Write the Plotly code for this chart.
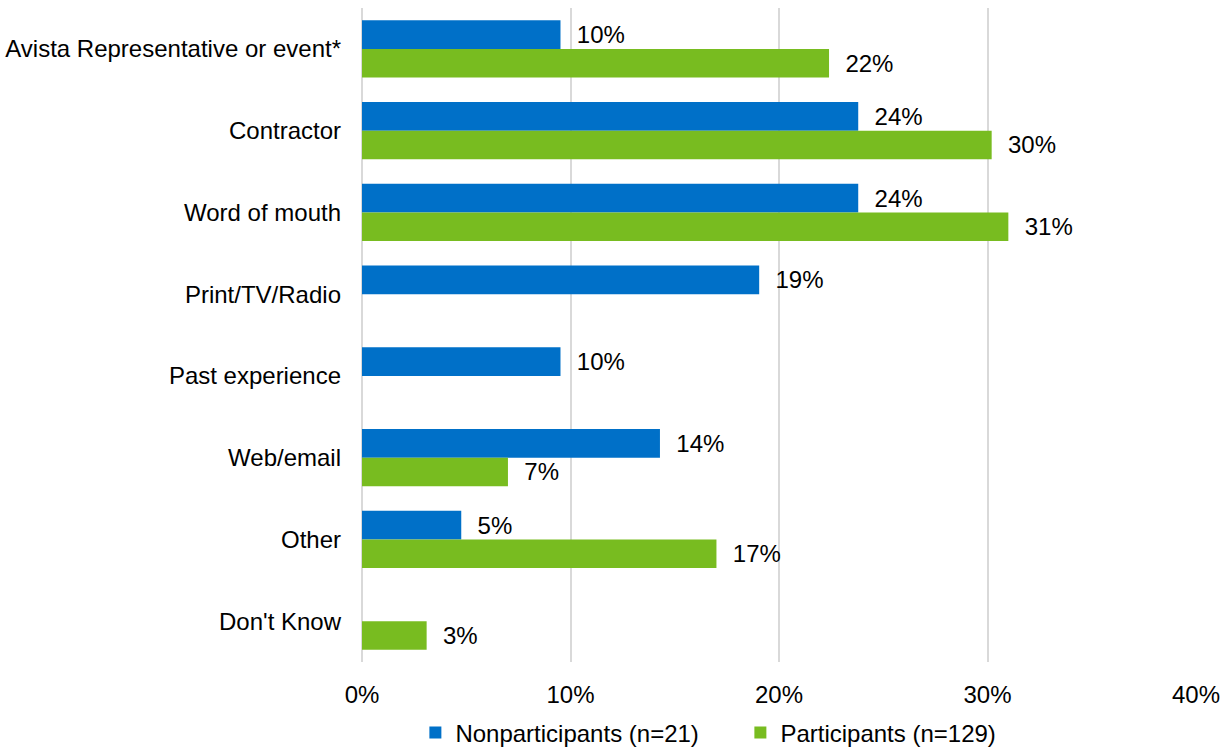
import plotly.graph_objects as go

categories = [
    "Avista Representative or event*",
    "Contractor",
    "Word of mouth",
    "Print/TV/Radio",
    "Past experience",
    "Web/email",
    "Other",
    "Don't Know",
]
nonparticipants = [0.0952, 0.238, 0.238, 0.1905, 0.0952, 0.1429, 0.0476, None]
participants = [0.224, 0.302, 0.310, None, None, 0.070, 0.170, 0.031]

series_names = ["Nonparticipants (n=21)", "Participants (n=129)"]
series_colors = ["#0070C8", "#78BC20"]

font_family = "Liberation Sans, Arial, sans-serif"
font_size = 24

fig = go.Figure()
for name, vals, color in zip(series_names, [nonparticipants, participants], series_colors):
    fig.add_trace(go.Bar(
        y=categories,
        x=vals,
        name=name,
        orientation="h",
        marker=dict(color=color, line=dict(width=0)),
        texttemplate="\u00a0\u00a0%{x:.0%}",
        textposition="outside",
        textfont=dict(size=font_size, color="#000000", family=font_family),
        cliponaxis=False,
    ))

fig.update_layout(
    width=1229,
    height=748,
    margin=dict(l=362, r=33, t=8, b=86, autoexpand=False),
    paper_bgcolor="white",
    plot_bgcolor="white",
    barmode="group",
    bargap=0.3,
    bargroupgap=0,
    font=dict(family=font_family, size=font_size, color="#000000"),
    showlegend=True,
    legend=dict(
        orientation="h",
        x=0.064,
        xanchor="left",
        y=-0.1086,
        yanchor="middle",
        font=dict(size=font_size, color="#000000"),
        itemwidth=30,
        entrywidth=280,
        entrywidthmode="pixels",
        traceorder="normal",
    ),
    xaxis=dict(
        range=[0, 0.4],
        tickvals=[0, 0.1, 0.2, 0.3, 0.4],
        tickformat=".0%",
        showgrid=True,
        gridcolor="#D9D9D9",
        gridwidth=2,
        zeroline=True,
        zerolinecolor="#D9D9D9",
        zerolinewidth=2,
        showline=False,
        ticks="",
        ticklabelstandoff=16,
        automargin=False,
        tickfont=dict(size=font_size, color="#000000"),
    ),
    yaxis=dict(
        autorange="reversed",
        showgrid=False,
        zeroline=False,
        showline=False,
        ticks="",
        ticklabelstandoff=20,
        automargin=False,
        tickfont=dict(size=font_size, color="#000000"),
    ),
)

fig.write_html("out.html")
